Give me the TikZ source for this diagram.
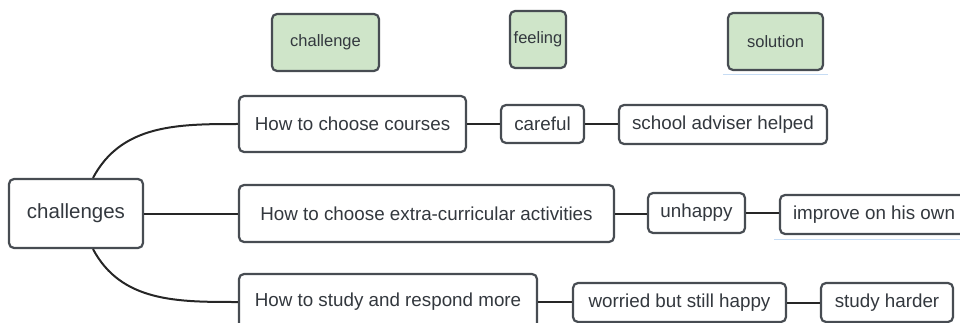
\documentclass[tikz,border=0pt]{standalone}
\usepackage{fontspec}
\setmainfont{Liberation Sans}
\definecolor{boxline}{HTML}{474C52}
\definecolor{headfill}{HTML}{CFE5C9}
\definecolor{txt}{HTML}{33383E}
\definecolor{uline}{HTML}{C6DCF4}
\tikzset{
  topic/.style={draw=boxline, rounded corners=5, line width=2.2, text=txt, inner sep=2},
  head/.style={topic, fill=headfill, font=\fontsize{16.5}{18}\selectfont},
  item/.style={topic, fill=white, font=\fontsize{18.8}{21}\selectfont},
  link/.style={line width=2, draw=black!85}
}

\begin{document}
\begin{tikzpicture}[x=1pt, y=-1pt]
		\useasboundingbox (0,0) rectangle (960,323);
		\clip (0,0) rectangle (960,323);
		
		% Column headers
		\node[head, minimum width=107, minimum height=57] (hc) at (325.5,42.5) {challenge};
		\node[head, minimum width=56, minimum height=57] (hf) at (538,39.5) {feeling};
		\node[head, minimum width=95, minimum height=57] (hs) at (775.5,41.5) {solution};
		\draw[uline, line width=1] (723,75) -- (828,75);
		
		% Central topic
		\node[topic, minimum width=134, minimum height=69, font=\fontsize{20.5}{23}\selectfont] (ch) at (76,213.5) {challenges};
		
		% Challenges
		\node[item, minimum width=227, minimum height=56] (q1) at (352.5,124) {How to choose courses};
		\node[item, minimum width=375, minimum height=57] (q2) at (426.5,213.5) {How to choose extra-curricular activities};
		\node[item, minimum width=298, minimum height=56] (q3) at (388,302) {How to study and respond more};
		
		% Feelings
		\node[item, minimum width=83, minimum height=38] (f1) at (542.5,124) {careful};
		\node[item, minimum width=97, minimum height=40] (f2) at (696.5,213) {unhappy};
		\node[item, minimum width=213, minimum height=39] (f3) at (679.5,302.5) {worried but still happy};
		
		% Solutions
		\node[item, minimum width=208, minimum height=39] (s1) at (723,124.5) {school adviser helped};
		\node[item, minimum width=188, minimum height=39] (s2) at (874,214.5) {improve on his own};
		\node[item, minimum width=132, minimum height=39] (s3) at (887,302.5) {study harder};
		\coordinate (u1) at (774,239);
		\coordinate (u2) at (960,239);
		\draw[uline, line width=1] (u1) -- (u2);
		
		% Branches from the central topic
		\draw[link] ([xshift=17]ch.north) to[out=62, in=180] (q1.west);
		\draw[link] (ch.east) -- (q2.west);
		\draw[link] ([xshift=17]ch.south) to[out=-62, in=180] (q3.west);
		
		% Rows
		\foreach \a/\b in {q1/f1, f1/s1, q2/f2, f2/s2, q3/f3, f3/s3} {
			\draw[link] (\a.east) -- (\a.east -| \b.west);
		}
		
	\end{tikzpicture}
\end{document}
